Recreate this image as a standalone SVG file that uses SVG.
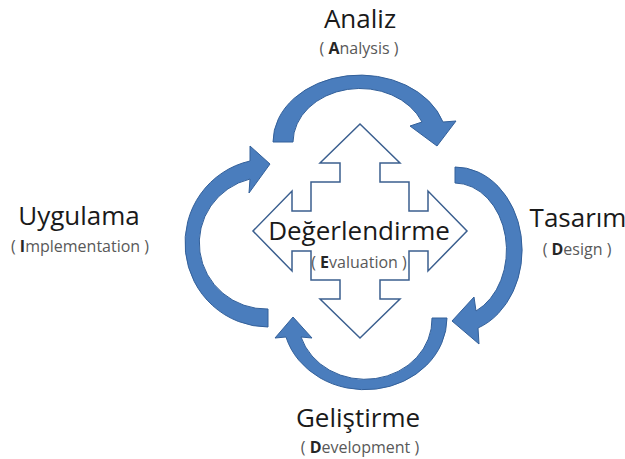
<svg xmlns="http://www.w3.org/2000/svg" width="625" height="459" viewBox="0 0 625 459">
<style>
.arc{fill:#4a7dbd;stroke:#33609a;stroke-width:1}
.quad{fill:#ffffff;stroke:#3b5f8f;stroke-width:1.5;stroke-linejoin:miter}
.big{font-family:"Open Sans","Noto Sans","Liberation Sans",sans-serif;font-size:26px;fill:#1a1a1a;text-anchor:middle}
.small{font-family:"Open Sans","Noto Sans","Liberation Sans",sans-serif;font-size:16px;fill:#595959;text-anchor:middle}
.ini{font-weight:bold;fill:#262626}
</style>
<rect width="625" height="459" fill="#ffffff"/>
<g id="connectors">
<path id="arc-analiz-tasarim" class="arc" d="M273,142 A87,67 0 0 1 443,122 L456,121 L437,146 L410,126 L422,122 A67,54 0 0 0 293,142 Z"/>
<path id="arc-tasarim-gelistirme" class="arc" d="M455,167 A67,83 0 0 1 478,328 L479,344 L452,321 L474,297 L476,311 A52,67 0 0 0 455,183 Z"/>
<path id="arc-gelistirme-uygulama" class="arc" d="M447,318 A82,72 0 0 1 286,337 L275,338 L293,317 L312,338 L301,337 A67,60 0 0 0 432,318 Z"/>
<path id="arc-uygulama-analiz" class="arc" d="M268,327 A83,84 0 0 1 250,161 L250,146 L270,164 L249,193 L250,179 A67,66 0 0 0 268,309 Z"/>
</g>
<g id="node-degerlendirme">
<path class="quad" d="M360,124 L400,163 L380,163 L380,182 L409,182 L409,211 L428,211 L428,191 L467,231 L428,271 L428,251 L409,251 L409,280 L380,280 L380,299 L400,299 L360,338 L320,299 L340,299 L340,280 L311,280 L311,251 L292,251 L292,271 L253,231 L292,191 L292,211 L311,211 L311,182 L340,182 L340,163 L320,163 Z"/>
<text class="big" x="359" y="240">Değerlendirme</text>
<text class="small" x="359" y="268">( <tspan class="ini">E</tspan>valuation )</text>
</g>
<g id="node-analiz">
<text class="big" x="360" y="28">Analiz</text>
<text class="small" x="359" y="54">( <tspan class="ini">A</tspan>nalysis )</text>
</g>
<g id="node-tasarim">
<text class="big" x="578" y="227">Tasarım</text>
<text class="small" x="577" y="255">( <tspan class="ini">D</tspan>esign )</text>
</g>
<g id="node-gelistirme">
<text class="big" x="358" y="427">Geliştirme</text>
<text class="small" x="360" y="453">( <tspan class="ini">D</tspan>evelopment )</text>
</g>
<g id="node-uygulama">
<text class="big" x="79" y="225">Uygulama</text>
<text class="small" x="80" y="252">( <tspan class="ini">I</tspan>mplementation )</text>
</g>
</svg>
